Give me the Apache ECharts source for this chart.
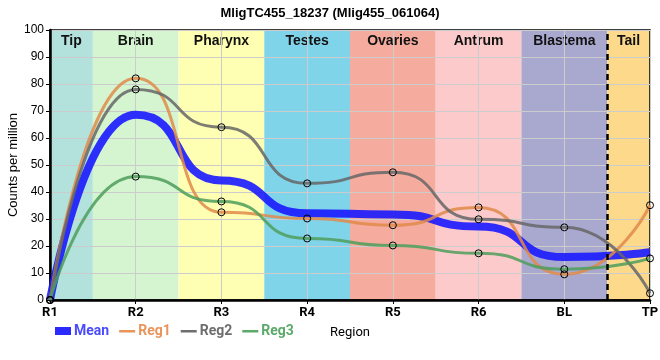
<!DOCTYPE html>
<html><head><meta charset="utf-8">
<script src="https://cdn.jsdelivr.net/npm/echarts@6/dist/echarts.min.js"></script>
<style>html,body{margin:0;padding:0;background:#fff}#c{width:660px;height:360px}</style>
</head><body><div id="c"></div>
<script>
const categories = ['R1','R2','R3','R4','R5','R6','BL','TP'];
const meanVals = [0, 68.6, 44.3, 32.1, 31.7, 27.2, 15.9, 17.7];
const reg1Vals = [0, 82.1, 32.5, 30.2, 27.7, 34.3, 9.5, 35.1];
const reg2Vals = [0, 78.0, 64.0, 43.2, 47.3, 29.9, 26.9, 2.5];
const reg3Vals = [0, 45.7, 36.5, 22.8, 20.2, 17.3, 11.4, 15.4];
const bandNames = ['Tip','Brain','Pharynx','Testes','Ovaries','Antrum','Blastema','Tail'];
const bandStarts = [0, 0.5, 1.5, 2.5, 3.5, 4.5, 5.5, 6.5];
const bandEnds = [0.5, 1.5, 2.5, 3.5, 4.5, 5.5, 6.5, 7];
const bandColors = ['#b3e2dd','#d5f5d0','#ffffb3','#80d4ea','#f5ab9d','#fccaca','#a9a8cf','#fdd98b'];
const yTicks = [0,10,20,30,40,50,60,70,80,90,100];

const toPairs = a => a.map((v,i)=>[i,v]);
const chart = echarts.init(document.getElementById('c'));
const lineIcon = 'path://M0,0L0,0Z M0,3H16V5.5H0Z M0,8L0,8Z';
const SMOOTH = 0.6;
function regSeries(name, vals, color){
  return {name, type:'line', data:toPairs(vals), smooth:SMOOTH, smoothMonotone:'x',
    symbol:'circle', symbolSize:7, showSymbol:true,
    lineStyle:{color, width:3, opacity:0.85},
    itemStyle:{color:'rgba(255,255,255,0)', borderColor:'#000', borderWidth:1},
    emphasis:{disabled:true}, z:3};
}
chart.setOption({
  animation:false,
  title:{text:'MligTC455_18237 (Mlig455_061064)', left:'center', top:2,
    textStyle:{fontFamily:'Liberation Sans', fontSize:13, fontWeight:'bold', color:'#000'}},
  grid:{left:50, right:10, top:30, bottom:60, containLabel:false, outerBoundsMode:'none',
    show:true, borderColor:'#000', borderWidth:1.5, backgroundColor:'transparent'},
  legend:{bottom:17, left:50, itemGap:10, itemWidth:16, itemHeight:8,
    textStyle:{fontFamily:'Roboto', fontSize:14, fontWeight:'bold', padding:[0,0,0,-2]},
    data:[
      {name:'Mean', icon:'rect', itemStyle:{color:'#2a2aff', borderWidth:0}, textStyle:{color:'#4a4aff'}},
      {name:'Reg1', icon:lineIcon, itemStyle:{color:'#e8945a', borderWidth:0}, textStyle:{color:'#e8945a'}},
      {name:'Reg2', icon:lineIcon, itemStyle:{color:'#6e6e6e', borderWidth:0}, textStyle:{color:'#6e6e6e'}},
      {name:'Reg3', icon:lineIcon, itemStyle:{color:'#5aaa6a', borderWidth:0}, textStyle:{color:'#5aaa6a'}}
    ]},
  xAxis:{type:'value', min:0, max:7, interval:1,
    name:'Region', nameLocation:'middle', nameGap:26, nameMoveOverlap:false,
    nameTextStyle:{fontFamily:'Roboto', fontSize:13, color:'#000'},
    axisLine:{show:true, onZero:false, lineStyle:{color:'#000', width:2.5}},
    axisTick:{show:true, length:4, inside:false, lineStyle:{color:'#000'}},
    axisLabel:{formatter:v=>categories[v]||'', fontFamily:'Roboto', fontSize:13, fontWeight:'bold', color:'#000', margin:6},
    splitLine:{show:true, lineStyle:{color:'#cccccc'}}},
  yAxis:{type:'value', min:0, max:100, interval:10,
    name:'Counts per million', nameLocation:'middle', nameGap:30, nameMoveOverlap:false,
    nameTextStyle:{fontFamily:'Liberation Sans', fontSize:13, color:'#000'},
    axisLine:{show:true, lineStyle:{color:'#000', width:2.5}},
    axisTick:{show:true, length:4, lineStyle:{color:'#000'}},
    axisLabel:{formatter:v=>yTicks.includes(v)?String(v):'', fontFamily:'Liberation Sans', fontSize:12, color:'#000', margin:6},
    splitLine:{show:true, lineStyle:{color:'#cccccc'}}},
  series:[
    {name:'Mean', type:'line', data:toPairs(meanVals), smooth:SMOOTH, smoothMonotone:'x', showSymbol:false, symbol:'none',
      lineStyle:{color:'#1a1aff', width:8, opacity:0.9}, itemStyle:{color:'#1a1aff'}, z:2,
      markArea:{silent:true, z:-1,
        label:{show:true, position:'insideTop', distance:4, fontFamily:'Liberation Sans', fontSize:14, fontWeight:'bold', color:'#111'},
        data: bandNames.map((n,i)=>[{name:n, xAxis:bandStarts[i], itemStyle:{color:bandColors[i], opacity:1}},{xAxis:bandEnds[i]}])},
      markLine:{silent:true, symbol:'none', label:{show:false},
        lineStyle:{color:'#000', type:[6,4], width:2.5},
        data:[{xAxis:6.5}]}},
    regSeries('Reg1', reg1Vals, '#e08a4a'),
    regSeries('Reg2', reg2Vals, '#666666'),
    regSeries('Reg3', reg3Vals, '#4e9e5c')
  ]
});
</script></body></html>
